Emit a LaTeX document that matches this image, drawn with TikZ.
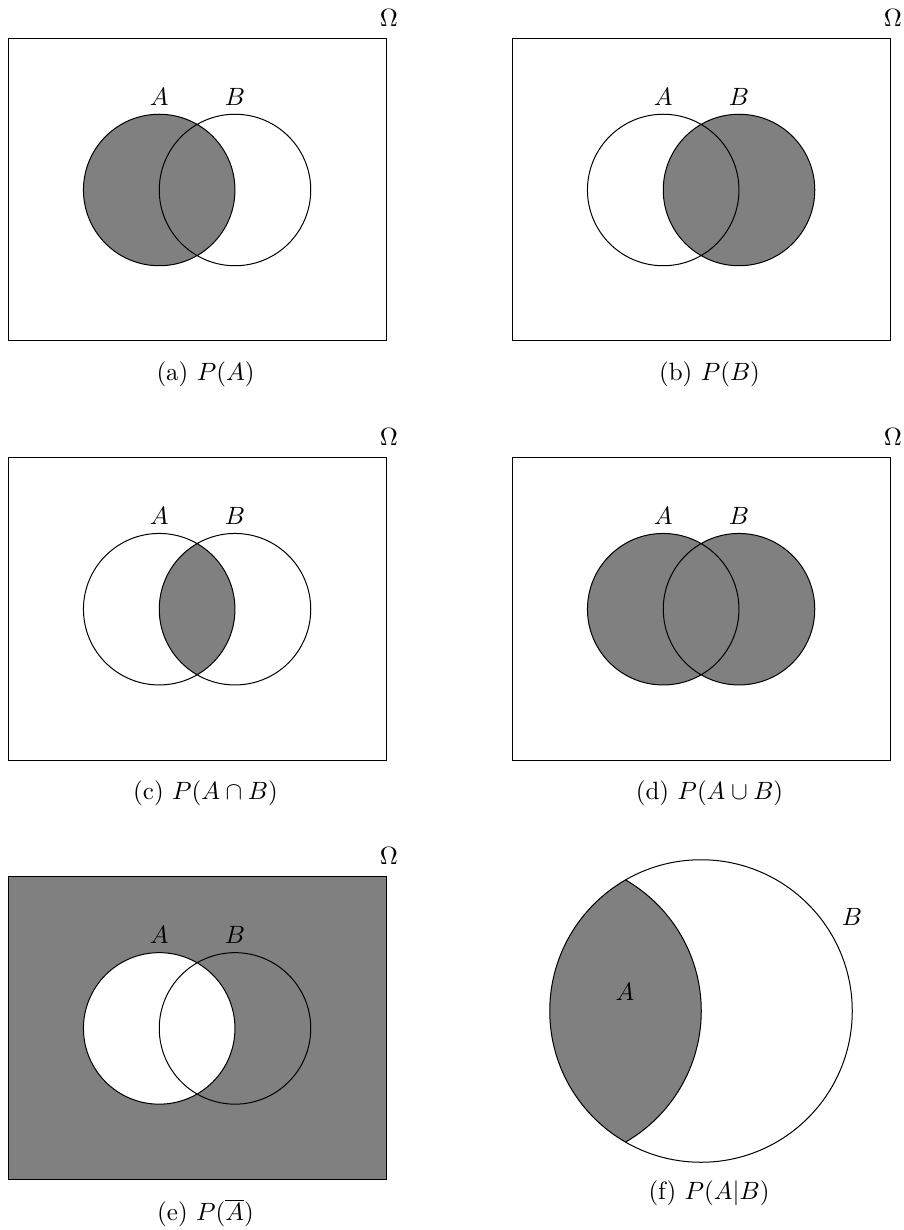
\documentclass[tikz,border=0pt]{standalone}
\newcommand\Rv{30.3pt}
\newcommand\Rf{60.5pt}
% #1 name prefix, #2 fill code, #3 caption
\newcommand\vennpanel[3]{%
  \coordinate (#1A) at (159.2,190);
  \coordinate (#1B) at (235,190);
  #2
  \draw[venn] (#1A) circle[radius=\Rv] (#1B) circle[radius=\Rv];
  \draw[venn] (8,38.3) rectangle (386.7,341);
  \node[lbl] (#1lA) at (159.2,97) {$A$};
  \node[lbl] (#1lB) at (235,97) {$B$};
  \node[lbl] (#1om) at (389,18) {$\Omega$};
  \node[lbl] (#1cap) at (205.5,374.5) {#3};
}
\begin{document}
\begin{tikzpicture}[x=0.4pt,y=-0.4pt,
  venn/.style={draw=black,line width=0.4pt},
  shaded/.style={fill=gray},
  lbl/.style={inner sep=0pt}]
\useasboundingbox (0,0) rectangle (904,1230);
% (a)
\begin{scope}
  \vennpanel{a}{\fill[shaded] (aA) circle[radius=\Rv];}{(a) $P(A)$}
\end{scope}
% (b)
\begin{scope}[shift={(504,0)}]
  \vennpanel{b}{\fill[shaded] (bB) circle[radius=\Rv];}{(b) $P(B)$}
\end{scope}
% (c)
\begin{scope}[shift={(0,419.2)}]
  \vennpanel{c}{\begin{scope}\clip (cA) circle[radius=\Rv]; \fill[shaded] (cB) circle[radius=\Rv];\end{scope}}{(c) $P(A\cap B)$}
\end{scope}
% (d)
\begin{scope}[shift={(504,419.2)}]
  \vennpanel{d}{\fill[shaded] (dA) circle[radius=\Rv] (dB) circle[radius=\Rv];}{(d) $P(A\cup B)$}
\end{scope}
% (e)
\begin{scope}[shift={(0,838.4)}]
  \vennpanel{e}{\fill[shaded] (8,38.3) rectangle (386.7,341); \fill[white] (eA) circle[radius=\Rv];}{(e) $P(\overline{A})$}
\end{scope}
% (f)
\coordinate (fB) at (701,1011);
\coordinate (fA) at (550,1011);
\begin{scope}
  \clip (fB) circle[radius=\Rf];
  \filldraw[venn,shaded] (fA) circle[radius=\Rf];
\end{scope}
\draw[venn] (fB) circle[radius=\Rf];
\node[lbl] (flA) at (625,992) {$A$};
\node[lbl] (flB) at (852,917) {$B$};
\node[lbl] (fcap) at (709,1193) {(f) $P(A|B)$};
\end{tikzpicture}
\end{document}
